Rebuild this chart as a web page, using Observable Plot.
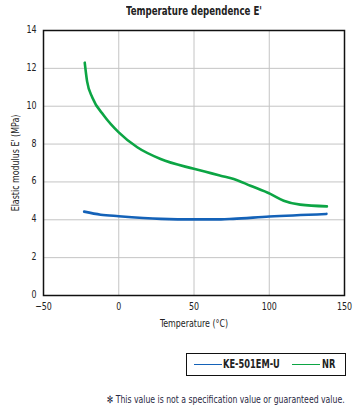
<!DOCTYPE html>
<html>
<head>
<meta charset="utf-8">
<script src="https://cdn.jsdelivr.net/npm/d3@7"></script>
<script src="https://cdn.jsdelivr.net/npm/@observablehq/plot@0.6"></script>
<style>
  body { margin: 0; background: #fff; }
  #wrap { position: relative; width: 364px; height: 415px; font-family: "DejaVu Sans Condensed", "Liberation Sans", sans-serif; color: #222; }
  #title { position: absolute; top: 4px; left: 94px; width: 200px; text-align: center; font-weight: bold; font-size: 12px; transform: scaleX(0.8); transform-origin: 50% 0; white-space: nowrap; }
  #chart { position: absolute; top: 0; left: 0; }
  #legend { position: absolute; left: 186px; top: 353px; width: 160px; height: 23px; border: 1.3px solid #111; box-sizing: border-box; font-weight: bold; font-size: 11.5px; }
  .sw { position: absolute; top: 10px; height: 0; border-top: 1.6px solid; width: 28px; }
  .lt { position: absolute; top: 3px; transform: scaleX(0.8); transform-origin: 0 0; white-space: nowrap; }
  #note { position: absolute; right: 19px; top: 394px; font-size: 10px; color: #2a2a44; white-space: nowrap; transform: scaleX(0.86); transform-origin: 100% 0; }
</style>
</head>
<body>
<div id="wrap">
  <div id="chart"></div>
  <div id="title">Temperature dependence E'</div>
  <div id="legend">
    <div class="sw" style="left:7px;border-color:#1462b8"></div>
    <div class="lt" style="left:36px">KE-501EM-U</div>
    <div class="sw" style="left:105px;border-color:#0ca544"></div>
    <div class="lt" style="left:135px">NR</div>
  </div>
  <div id="note">✻ This value is not a specification value or guaranteed value.</div>
</div>
<script>
const seriesNames = ["KE-501EM-U", "NR"];
const seriesColors = ["#1462b8", "#0ca544"];

const keTemp = [-23, -12, 0, 28, 50, 68, 76, 100, 138];
const keE    = [4.43, 4.27, 4.19, 4.05, 4.02, 4.02, 4.05, 4.17, 4.31];

const nrTemp = [-22.6, -21, -17.5, -9.8, 0, 12.3, 27.8, 49.9, 67.6, 76.4, 87.5, 100.7, 109.6, 120.6, 138.3];
const nrE    = [12.3, 11.3, 10.45, 9.5, 8.62, 7.83, 7.21, 6.69, 6.33, 6.16, 5.8, 5.37, 5.01, 4.8, 4.71];

const xTicks = [-50, 0, 50, 100, 150];
const yTicks = [0, 2, 4, 6, 8, 10, 12, 14];

const data = [
  ...keTemp.map((t, i) => ({series: seriesNames[0], t, e: keE[i]})),
  ...nrTemp.map((t, i) => ({series: seriesNames[1], t, e: nrE[i]}))
];

const chart = Plot.plot({
  width: 364,
  height: 340,
  marginLeft: 43,
  marginRight: 20,
  marginTop: 30,
  marginBottom: 45,
  style: { fontFamily: '"DejaVu Sans Condensed", "Liberation Sans", sans-serif', fontSize: "10.5px", color: "#222", background: "transparent" },
  x: { domain: [-50, 150], ticks: xTicks },
  y: { domain: [0, 14], ticks: yTicks },
  color: { domain: seriesNames, range: seriesColors },
  marks: [
    Plot.gridX(xTicks, { stroke: "#c4c4c4", strokeOpacity: 1, strokeWidth: 1 }),
    Plot.gridY(yTicks, { stroke: "#c4c4c4", strokeOpacity: 1, strokeWidth: 1 }),
    Plot.axisX(xTicks, { tickSize: 0, tickPadding: 7, label: "Temperature (°C)", labelAnchor: "center", labelOffset: 31, labelArrow: "none", fontSize: 11 }),
    Plot.axisY(yTicks, { tickSize: 0, tickPadding: 7, dy: -1, label: "Elastic modulus E' (MPa)", labelAnchor: "center", labelOffset: 32, labelArrow: "none", fontSize: 11 }),
    Plot.line(data, { x: "t", y: "e", z: "series", stroke: "series", strokeWidth: 2.6, curve: "monotone-x" }),
    Plot.frame({ stroke: "#111", strokeWidth: 1.5 })
  ]
});
document.getElementById("chart").appendChild(chart);

// condense all chart text horizontally to mimic the narrow typeface
d3.select(chart).selectAll("text").each(function () {
  const len = this.getComputedTextLength();
  if (len > 0) {
    this.setAttribute("textLength", (len * 0.8).toFixed(1));
    this.setAttribute("lengthAdjust", "spacingAndGlyphs");
  }
});
</script>
</body>
</html>
